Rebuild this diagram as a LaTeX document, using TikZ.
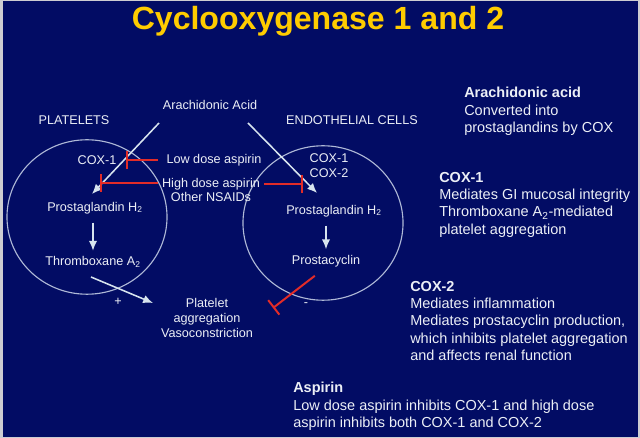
\documentclass[tikz,border=0pt]{standalone}
\usepackage{fontspec}
\setmainfont{Liberation Sans}
\usetikzlibrary{arrows.meta}
\definecolor{fondo}{RGB}{2,12,100}
\definecolor{marco}{RGB}{205,205,210}
\definecolor{amarillo}{RGB}{255,204,0}
\definecolor{claro}{RGB}{236,239,246}
\definecolor{circulo}{RGB}{175,185,215}
\definecolor{flechaclara}{RGB}{215,228,238}
\definecolor{rojo}{RGB}{226,44,40}
\begin{document}
\begin{tikzpicture}[
    x=0.025cm, y=-0.025cm,
    titulo/.style={text=amarillo, font=\fontsize{22.8}{27}\selectfont\bfseries, inner sep=0pt},
    texto/.style={text=claro, font=\fontsize{9}{10.6}\selectfont, inner sep=0pt},
    bloque/.style={text=claro, font=\fontsize{10.3}{12.3}\selectfont, align=left, anchor=north west, inner sep=0pt},
    celula/.style={draw=circulo, line width=0.8pt},
    flecha/.style={draw=flechaclara, line width=1.1pt, -{Latex[length=7pt, width=6pt]}},
    inhibe/.style={draw=rojo, line width=1.4pt, -{Bar[width=13pt, line width=1.4pt]}}
]
    % Fondo y marco
    \fill[marco] (0,0) rectangle (640,438);
    \fill[fondo] (3,1) rectangle (638,437);
    \node[titulo] (titulo) at (318,21) {Cyclooxygenase 1 and 2};

    % Células (plaquetas y endotelio)
    \draw[celula] (87,217) ellipse [x radius=2cm, y radius=1.93cm];
    \draw[celula] (323,223) ellipse [x radius=2cm, y radius=1.93cm];

    % Textos del diagrama
    \node[texto] (plaquetas) at (74,120) {PLATELETS};
    \node[texto] (endotelio) at (352,120) {ENDOTHELIAL CELLS};
    \node[texto] (araq) at (210,105) {Arachidonic Acid};
    \node[texto] (cox1) at (97,160) {COX-1};
    \node[texto, align=left] (cox12) at (329,166) {COX-1\\COX-2};
    \node[texto] (bajas) at (214,160) {Low dose aspirin};
    \node[texto, align=center] (altas) at (211,190) {High dose aspirin\\Other NSAIDs};
    \node[texto] (pgh2a) at (95,208) {Prostaglandin H\textsubscript{2}};
    \node[texto] (pgh2b) at (334,211) {Prostaglandin H\textsubscript{2}};
    \node[texto] (txa2) at (93,262) {Thromboxane A\textsubscript{2}};
    \node[texto] (pgi2) at (326,261) {Prostacyclin};
    \node[texto, align=center] (agreg) at (207,318) {Platelet\\aggregation\\Vasoconstriction};
    \node[texto] (mas) at (118,302) {+};
    \node[texto] (menos) at (306,305) {-};

    % Extremos libres de las flechas
    \coordinate (aaI) at (159,123);
    \coordinate (aaD) at (248,123);
    \coordinate (finI) at (92,194);
    \coordinate (finD) at (317,193);
    \coordinate (txaS) at (91,277);
    \coordinate (agrO) at (153,303);
    \coordinate (blqA) at (126,160);
    \coordinate (blqB) at (100,183);
    \coordinate (blqC) at (303,184);
    \coordinate (blqD) at (273,308);

    % Flechas de la ruta
    \draw[flecha] (aaI) -- (finI);
    \draw[flecha] (aaD) -- (finD);
    \draw[flecha, shorten <=6pt, shorten >=4pt] (txa2.north |- pgh2a.south) -- (txa2.north);
    \draw[flecha, shorten <=6pt, shorten >=4pt] (pgi2.north |- pgh2b.south) -- (pgi2.north);
    \draw[flecha] (txaS) -- (agrO);

    % Inhibiciones
    \draw[inhibe, shorten <=6pt] (bajas.west) -- (blqA);
    \draw[inhibe, shorten <=3pt] (altas.west |- blqB) -- (blqB);
    \draw[inhibe, shorten <=3pt] (altas.east |- blqC) -- (blqC);
    \draw[inhibe, shorten <=10pt] (pgi2.south) -- (blqD);

    % Notas de la derecha
    \node[bloque] (notaAA) at (464,87) {\textbf{Arachidonic acid}\\Converted into\\prostaglandins by COX};
    \node[bloque] (notaC1) at (439,172) {\textbf{COX-1}\\Mediates GI mucosal integrity\\Thromboxane A\textsubscript{2}-mediated\\platelet aggregation};
    \node[bloque] (notaC2) at (410,281) {\textbf{COX-2}\\Mediates inflammation\\Mediates prostacyclin production,\\which inhibits platelet aggregation\\and affects renal function};
    \node[bloque] (notaAsp) at (293,382) {\textbf{Aspirin}\\Low dose aspirin inhibits COX-1 and high dose\\aspirin inhibits both COX-1 and COX-2};
\end{tikzpicture}
\end{document}
